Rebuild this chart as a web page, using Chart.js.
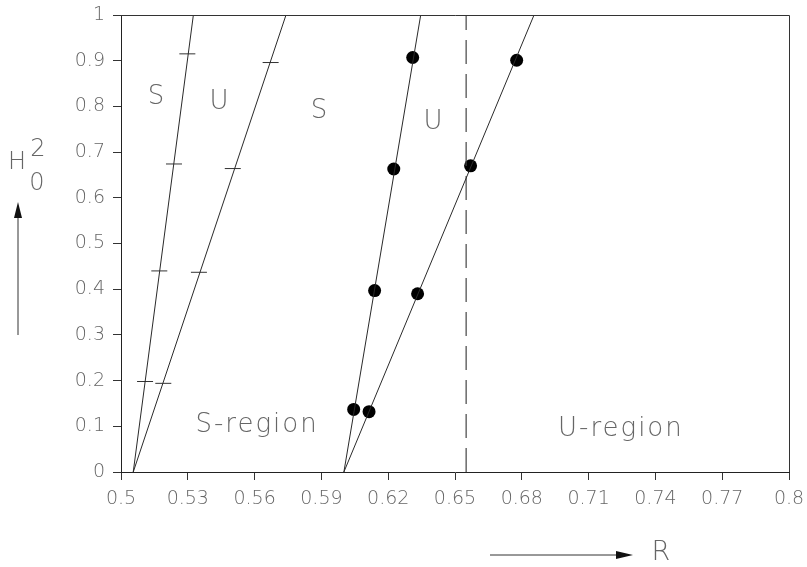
<!DOCTYPE html>
<html>
<head>
<meta charset="utf-8">
<script src="https://cdn.jsdelivr.net/npm/chart.js@4/dist/chart.umd.min.js"></script>
<style>
  html, body { margin: 0; padding: 0; background: #fff; }
  #wrap { width: 807px; height: 567px; }
</style>
</head>
<body>
<div id="wrap"><canvas id="c" width="807" height="567"></canvas></div>
<script>
// ---- data (R on x, H0^2 on y) ----
const xTickValues = [0.5, 0.53, 0.56, 0.59, 0.62, 0.65, 0.68, 0.71, 0.74, 0.77, 0.8];
const xTickLabels = ['0.5', '0.53', '0.56', '0.59', '0.62', '0.65', '0.68', '0.71', '0.74', '0.77', '0.8'];
const yTickValues = [0, 0.1, 0.2, 0.3, 0.4, 0.5, 0.6, 0.7, 0.8, 0.9, 1];
const yTickLabels = ['0', '0.1', '0.2', '0.3', '0.4', '0.5', '0.6', '0.7', '0.8', '0.9', '1'];

// fitted boundary lines (endpoints at H0^2 = 0 and 1)
const line1 = [{x: 0.5055, y: 0}, {x: 0.5325, y: 1}];
const line2 = [{x: 0.5055, y: 0}, {x: 0.5741, y: 1}];
const line3 = [{x: 0.6001, y: 0}, {x: 0.6346, y: 1}];
const line4 = [{x: 0.6001, y: 0}, {x: 0.6855, y: 1}];
// vertical dashed boundary
const dashedR = [{x: 0.655, y: 0}, {x: 0.655, y: 1}];

// tick-mark (dash) markers
const marks1 = [{x: 0.5108, y: 0.198}, {x: 0.5172, y: 0.440}, {x: 0.5238, y: 0.674}, {x: 0.5298, y: 0.915}];
const marks2 = [{x: 0.5190, y: 0.194}, {x: 0.5350, y: 0.437}, {x: 0.5502, y: 0.664}, {x: 0.5672, y: 0.896}];
// filled-dot markers
const dots3 = [{x: 0.6045, y: 0.137}, {x: 0.6139, y: 0.397}, {x: 0.6225, y: 0.663}, {x: 0.6310, y: 0.907}];
const dots4 = [{x: 0.6114, y: 0.132}, {x: 0.6332, y: 0.390}, {x: 0.6570, y: 0.670}, {x: 0.6777, y: 0.901}];

// region annotations (text, R, H0^2)
const regionTexts = ['S', 'U', 'S', 'U', 'S-region', 'U-region'];
const regionR = [0.5162, 0.5445, 0.5894, 0.6406, 0.5611, 0.7245];
const regionH = [0.821, 0.810, 0.790, 0.766, 0.103, 0.094];

const xTitle = 'R';
const yTitleMain = 'H';
const yTitleSub = '0';
const yTitleSup = '2';

const LINE = '#2a2a2a';
const TEXT = '#666';
const FONT = '"DejaVu Sans", "Liberation Sans", sans-serif';

const lineDs = (data) => ({
  data, showLine: true, borderColor: LINE, borderWidth: 1, pointRadius: 0, fill: false
});

const decorPlugin = {
  id: 'decor',
  afterDraw(chart) {
    const ctx = chart.ctx;
    const a = chart.chartArea;
    const xs = chart.scales.x, ys = chart.scales.y;
    ctx.save();
    // frame top/right
    ctx.strokeStyle = '#333';
    ctx.lineWidth = 1;
    ctx.beginPath();
    ctx.moveTo(a.left, a.top + 0.5);
    ctx.lineTo(a.right + 0.5, a.top + 0.5);
    ctx.lineTo(a.right + 0.5, a.bottom);
    ctx.stroke();

    // region labels
    ctx.fillStyle = TEXT;
    ctx.font = '200 26px ' + FONT;
    ctx.textAlign = 'center';
    ctx.textBaseline = 'middle';
    try { ctx.letterSpacing = '2px'; } catch (e) {}
    for (let i = 0; i < regionTexts.length; i++) {
      ctx.fillText(regionTexts[i], xs.getPixelForValue(regionR[i]), ys.getPixelForValue(regionH[i]));
    }
    try { ctx.letterSpacing = '0px'; } catch (e) {}

    // x title with arrow
    const ay = 555;
    ctx.strokeStyle = '#333';
    ctx.fillStyle = '#111';
    ctx.beginPath();
    ctx.moveTo(490, ay);
    ctx.lineTo(620, ay);
    ctx.stroke();
    ctx.beginPath();
    ctx.moveTo(633, ay);
    ctx.lineTo(616, ay - 4);
    ctx.lineTo(616, ay + 4);
    ctx.closePath();
    ctx.fill();
    ctx.fillStyle = TEXT;
    ctx.font = '200 27px ' + FONT;
    ctx.textAlign = 'center';
    ctx.fillText(xTitle, 661, 553);

    // y title with arrow
    ctx.beginPath();
    ctx.moveTo(18, 335);
    ctx.lineTo(18, 215);
    ctx.stroke();
    ctx.fillStyle = '#111';
    ctx.beginPath();
    ctx.moveTo(18, 202);
    ctx.lineTo(14, 218);
    ctx.lineTo(22, 218);
    ctx.closePath();
    ctx.fill();
    ctx.fillStyle = TEXT;
    ctx.font = '200 24px ' + FONT;
    ctx.fillText(yTitleMain, 17, 163);
    ctx.font = '200 24px ' + FONT;
    ctx.fillText(yTitleSup, 38, 150);
    ctx.fillText(yTitleSub, 37, 184);
    ctx.restore();
  }
};

new Chart(document.getElementById('c'), {
  type: 'scatter',
  data: {
    datasets: [
      lineDs(line1),
      lineDs(line2),
      lineDs(line3),
      lineDs(line4),
      { data: dashedR, showLine: true, borderColor: '#444', borderWidth: 1.2, borderDash: [24, 10], pointRadius: 0 },
      { data: marks1, showLine: false, pointStyle: 'line', pointRadius: 8, borderColor: '#333', borderWidth: 1 },
      { data: marks2, showLine: false, pointStyle: 'line', pointRadius: 8, borderColor: '#333', borderWidth: 1 },
      { data: dots3, showLine: false, pointStyle: 'circle', pointRadius: 6.5, backgroundColor: '#000', borderColor: '#000', borderWidth: 0 },
      { data: dots4, showLine: false, pointStyle: 'circle', pointRadius: 6.5, backgroundColor: '#000', borderColor: '#000', borderWidth: 0 }
    ]
  },
  options: {
    responsive: false,
    animation: false,
    events: [],
    layout: { padding: { top: 15, right: 18, left: 0, bottom: 0 } },
    plugins: { legend: { display: false }, tooltip: { enabled: false } },
    scales: {
      x: {
        type: 'linear', min: 0.5, max: 0.8,
        afterBuildTicks: (s) => { s.ticks = xTickValues.map(v => ({ value: v })); },
        afterFit: (s) => { s.height = 95; s.paddingLeft = 0; s.paddingRight = 0; },
        ticks: {
          autoSkip: false, maxRotation: 0, padding: 8, color: TEXT,
          font: { family: FONT, size: 19, weight: 200 },
          callback: (v, i) => xTickLabels[i]
        },
        grid: { drawOnChartArea: false, drawTicks: true, tickLength: 8, color: '#333' },
        border: { display: true, color: '#222', width: 1 }
      },
      y: {
        type: 'linear', min: 0, max: 1,
        afterBuildTicks: (s) => { s.ticks = yTickValues.map(v => ({ value: v })); },
        afterFit: (s) => { s.width = 121; s.paddingTop = 0; s.paddingBottom = 0; },
        ticks: {
          autoSkip: false, padding: 8, color: TEXT,
          font: { family: FONT, size: 19, weight: 200 },
          callback: (v, i) => yTickLabels[i]
        },
        grid: { drawOnChartArea: false, drawTicks: true, tickLength: 8, color: '#333' },
        border: { display: true, color: '#222', width: 1 }
      }
    }
  },
  plugins: [decorPlugin]
});
</script>
</body>
</html>
